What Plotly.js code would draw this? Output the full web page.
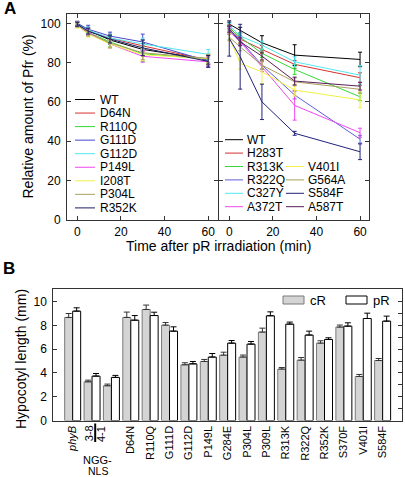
<!DOCTYPE html>
<html>
<head>
<meta charset="utf-8">
<script src="https://cdn.plot.ly/plotly-3.0.1.min.js"></script>
<style>html,body{margin:0;padding:0;background:#fff;}#chart{width:405px;height:477px;}</style>
</head>
<body>
<div id="chart"></div>
<script>
// ---------- Panel A data ----------
const times = [0, 5, 15, 30, 60];

const leftNames = ['WT','D64N','R110Q','G111D','G112D','P149L','I208T','P304L','R352K'];
const leftColors = ['#000000','#d83030','#38d838','#4848cc','#50e8f0','#f048f0','#f0f048','#a8a060','#1c1c64'];
const leftWT    = [100, 96.5, 91.5, 86.7, 81.6];
const leftD64N  = [99.5, 96, 92.5, 88.5, 81.3];
const leftR110Q = [99.5, 95.5, 90.5, 84.5, 81.8];
const leftG111D = [100, 97, 93.5, 90.5, 80.8];
const leftG112D = [99.5, 96.5, 92.5, 89.5, 84.2];
const leftP149L = [99.5, 95.5, 89.5, 83.2, 80.4];
const leftI208T = [99, 94.5, 89.5, 84, 82];
const leftP304L = [99, 95, 90, 85, 82.2];
const leftR352K = [99.5, 96, 92, 87.5, 80.6];
const leftErrWT    = [1, 1.5, 2, 3, 2.5];
const leftErrD64N  = [1, 1.5, 2, 3, 2];
const leftErrR110Q = [1, 1.5, 2.5, 4, 2.5];
const leftErrG111D = [1, 2, 2, 4, 3];
const leftErrG112D = [1, 1.5, 2, 3, 2.5];
const leftErrP149L = [1, 1.5, 2, 3, 2];
const leftErrI208T = [1.5, 1.5, 2, 3, 2];
const leftErrP304L = [1, 1.5, 2.5, 3.5, 2];
const leftErrR352K = [1, 1.5, 2, 4, 3];
const leftVals = [leftWT,leftD64N,leftR110Q,leftG111D,leftG112D,leftP149L,leftI208T,leftP304L,leftR352K];
const leftErrs = [leftErrWT,leftErrD64N,leftErrR110Q,leftErrG111D,leftErrG112D,leftErrP149L,leftErrI208T,leftErrP304L,leftErrR352K];

const rightNames = ['WT','H283T','R313K','R322Q','C327Y','A372T','V401I','G564A','S584F','A587T'];
const rightColors = ['#000000','#d83030','#38d838','#6060d8','#50e8f0','#f048f0','#f0f048','#a8a060','#22227a','#5a1e5a'];
const rightWT    = [99.6, 96.5, 90.1, 83.8, 81.6];
const rightH283T = [98.2, 92, 86.7, 79.1, 72.3];
const rightR313K = [97.5, 93, 84.7, 76.5, 62.6];
const rightR322Q = [97, 91.4, 78.7, 63.5, 41];
const rightC327Y = [99, 93.5, 88.9, 80.4, 73.6];
const rightA372T = [96, 90.6, 77.9, 58.2, 44.3];
const rightV401I = [93, 79.6, 75.3, 66, 61];
const rightG564A = [93, 88, 78.7, 70.2, 66.4];
const rightS584F = [92.3, 83, 60, 44, 34.6];
const rightA587T = [97, 90.6, 83.3, 70.6, 68];
const rightErrWT    = [1, 1.5, 3.6, 5.3, 3.7];
const rightErrH283T = [1, 2, 2, 2, 2.5];
const rightErrR313K = [1, 2, 2, 2.5, 2];
const rightErrR322Q = [1.5, 2, 2, 2, 2];
const rightErrC327Y = [1, 1.5, 2, 2.5, 4.8];
const rightErrA372T = [1.5, 2, 2.5, 7.5, 2.3];
const rightErrV401I = [2, 3, 6, 3, 4];
const rightErrG564A = [1.5, 2, 2, 2, 2];
const rightErrS584F = [9, 16.5, 9, 1, 4];
const rightErrA587T = [1.5, 2, 2, 2, 2];
const rightVals = [rightWT,rightH283T,rightR313K,rightR322Q,rightC327Y,rightA372T,rightV401I,rightG564A,rightS584F,rightA587T];
const rightErrs = [rightErrWT,rightErrH283T,rightErrR313K,rightErrR322Q,rightErrC327Y,rightErrA372T,rightErrV401I,rightErrG564A,rightErrS584F,rightErrA587T];

// ---------- Panel B data ----------
const bLabels = ['phyB','3-8','4-1','D64N','R110Q','G111D','G112D','P149L','G284E','P304L','P309L','R313K','R322Q','R352K','S370F','V401I','S584F'];
const cR    = [8.66,3.25,2.92,8.66,9.33,8.01,4.68,4.96,5.49,5.33,7.43,4.32,5.07,6.50,7.85,3.70,5.04];
const cRerr = [0.33,0.14,0.14,0.45,0.37,0.22,0.17,0.17,0.25,0.17,0.33,0.13,0.22,0.20,0.17,0.17,0.17];
const pR    = [9.19,3.73,3.62,8.43,8.82,7.51,4.76,5.33,6.50,6.42,8.80,8.10,7.18,6.81,7.93,8.57,8.35];
const pRerr = [0.28,0.22,0.17,0.39,0.28,0.36,0.20,0.30,0.22,0.22,0.33,0.17,0.33,0.14,0.28,0.45,0.42];
const nglsLabels = ['3-8','4-1'];
const nglsGroup = ['NGG-', 'NLS'];

// ---------- helpers ----------
const W = 405, H = 477;
const px = v => v / W;
const py = v => 1 - v / H;
const FONT = 'Liberation Sans, Arial, Helvetica, sans-serif';

const traces = [];
function addLines(names, vals, errs, colors, xa, ya) {
  names.forEach((n, i) => {
    traces.push({
      type: 'scatter', mode: 'lines', x: times, y: vals[i], name: n,
      xaxis: xa, yaxis: ya, showlegend: false,
      line: {color: colors[i], width: 1},
      error_y: {type: 'data', array: errs[i], visible: true, color: colors[i], thickness: 1, width: 2}
    });
  });
}
addLines(leftNames, leftVals, leftErrs, leftColors, 'x', 'y');
addLines(rightNames, rightVals, rightErrs, rightColors, 'x2', 'y2');

const idx = bLabels.map((_, i) => i);
traces.push({
  type: 'bar', x: idx, y: cR, name: 'cR', xaxis: 'x3', yaxis: 'y3', showlegend: false,
  marker: {color: '#d4d4d4', line: {color: '#7a7a7a', width: 1}},
  error_y: {type: 'data', symmetric: false, array: cRerr, arrayminus: cR.map(() => 0), color: '#333', thickness: 1, width: 3}
});
traces.push({
  type: 'bar', x: idx, y: pR, name: 'pR', xaxis: 'x3', yaxis: 'y3', showlegend: false,
  marker: {color: '#ffffff', line: {color: '#000000', width: 1}},
  error_y: {type: 'data', symmetric: false, array: pRerr, arrayminus: pR.map(() => 0), color: '#000', thickness: 1, width: 3}
});

const tickText = bLabels.map(l => l === 'phyB' ? '<i>phyB</i>' : (nglsLabels.includes(l) ? '' : l));

const axA = {
  showline: true, linecolor: '#333', linewidth: 1, mirror: 'ticks',
  ticks: 'inside', ticklen: 4, tickcolor: '#333', showgrid: false, zeroline: false,
  tickfont: {size: 12, family: FONT, color: '#000'}
};
const yDomA = [py(219.7), py(13.5)];

const annotations = [];
const shapes = [];
function ann(text, x, y, opts) {
  annotations.push(Object.assign({text, x: px(x), y: py(y), xref: 'paper', yref: 'paper',
    showarrow: false, font: {size: 12, family: FONT, color: '#000'}, xanchor: 'left', yanchor: 'middle'}, opts || {}));
}
function hline(x0, x1, y, color, width) {
  shapes.push({type: 'line', xref: 'paper', yref: 'paper', x0: px(x0), x1: px(x1), y0: py(y), y1: py(y), line: {color, width: width || 1}});
}

// panel letters
ann('<b>A</b>', 2, 9, {font: {size: 17, family: FONT, color: '#000'}});
ann('<b>B</b>', 1, 268, {font: {size: 17, family: FONT, color: '#000'}});
// titles
ann('Time after pR irradiation (min)', 218, 246, {xanchor: 'center', font: {size: 14, family: FONT, color: '#000'}});
ann('Relative amount of Pfr (%)', 28, 116.5, {xanchor: 'center', textangle: -90, font: {size: 14, family: FONT, color: '#000'}});
ann('Hypocotyl length (mm)', 21, 359, {xanchor: 'center', textangle: -90, font: {size: 14, family: FONT, color: '#000'}});

// left legend
leftNames.forEach((n, i) => {
  const y = 99.5 + i * 13.55;
  hline(75, 95, y, leftColors[i], 1);
  ann(n, 98, y);
});
// right legend, two columns
const col1 = 6;
rightNames.forEach((n, i) => {
  let x0, y;
  if (i < col1) { x0 = 225; y = 139.7 + i * 13.4; }
  else { x0 = 286; y = 139.7 + (i - col1 + 2) * 13.4; }
  hline(x0, x0 + 18, y, rightColors[i], 1);
  ann(n, x0 + 20, y);
});
// panel B legend
shapes.push({type: 'rect', xref: 'paper', yref: 'paper', x0: px(283), x1: px(304), y0: py(304), y1: py(296),
  fillcolor: '#d4d4d4', line: {color: '#7a7a7a', width: 1}});
ann('cR', 308, 300.5, {font: {size: 13, family: FONT, color: '#000'}});
shapes.push({type: 'rect', xref: 'paper', yref: 'paper', x0: px(346), x1: px(367), y0: py(304), y1: py(296),
  fillcolor: '#ffffff', line: {color: '#000', width: 1}});
ann('pR', 371, 300.5, {font: {size: 13, family: FONT, color: '#000'}});

// NGG-NLS labels
ann(nglsLabels[0], 89.2, 423, {xanchor: 'center', yanchor: 'top', textangle: -90, font: {size: 11, family: FONT, color: '#000'}});
ann(nglsLabels[1], 100.5, 424.5, {xanchor: 'center', yanchor: 'top', textangle: -90, font: {size: 11, family: FONT, color: '#000'}});
shapes.push({type: 'line', xref: 'paper', yref: 'paper', x0: px(95.2), x1: px(95.2), y0: py(423.5), y1: py(442), line: {color: '#000', width: 2}});
ann(nglsGroup[0], 97.5, 459.5, {xanchor: 'center', font: {size: 11, family: FONT, color: '#000'}});
ann(nglsGroup[1], 97.5, 470.5, {xanchor: 'center', font: {size: 10.5, family: FONT, color: '#000'}});

const layout = {
  width: W, height: H, margin: {l: 0, r: 0, t: 0, b: 0},
  paper_bgcolor: '#fff', plot_bgcolor: '#fff',
  font: {family: FONT, size: 12, color: '#000'},
  showlegend: false,
  barmode: 'group', bargap: 0.175, bargroupgap: 0,
  xaxis: Object.assign({}, axA, {domain: [px(67), px(218)], anchor: 'y', range: [-4.7, 64.5], tickvals: [0, 20, 40, 60], ticklabelstandoff: 1}),
  yaxis: Object.assign({}, axA, {domain: yDomA, anchor: 'x', range: [0, 105], tickvals: [0, 20, 40, 60, 80, 100], ticklabelstandoff: 3}),
  xaxis2: Object.assign({}, axA, {domain: [px(219), px(369)], anchor: 'y2', range: [-4.7, 64.1], tickvals: [0, 20, 40, 60], ticklabelstandoff: 1}),
  yaxis2: Object.assign({}, axA, {domain: yDomA, anchor: 'x2', range: [0, 105], tickvals: [0, 20, 40, 60, 80, 100], showticklabels: false}),
  xaxis3: {domain: [px(53.3), px(402)], anchor: 'y3', range: [-1, 17], tickvals: idx, ticktext: tickText,
    tickangle: -90, ticks: '', showline: true, linecolor: '#333', linewidth: 1, mirror: true,
    showgrid: false, zeroline: false, tickfont: {size: 11, family: FONT, color: '#000'}},
  yaxis3: {domain: [py(420.5), py(289)], anchor: 'x3', range: [0, 11.05], tickvals: [0, 2, 4, 6, 8, 10],
    ticks: 'inside', ticklen: 4, tickcolor: '#333', showline: true, linecolor: '#333', linewidth: 1, mirror: true,
    showgrid: false, zeroline: false, tickfont: {size: 12, family: FONT, color: '#000'}, ticklabelstandoff: 3},
  yaxis4: {overlaying: 'y3', side: 'right', anchor: 'x3', range: [0, 11.05], dtick: 1, tick0: 0,
    ticks: 'inside', ticklen: 4, tickcolor: '#333', showticklabels: false, showline: false, showgrid: false, zeroline: false},
  annotations, shapes
};

// invisible helper trace so the right-side tick axis of panel B is drawn
traces.push({type: 'scatter', x: [0], y: [0], xaxis: 'x3', yaxis: 'y4', mode: 'markers', marker: {opacity: 0}, hoverinfo: 'skip', showlegend: false});

Plotly.newPlot('chart', traces, layout, {staticPlot: true, displayModeBar: false});
</script>
</body>
</html>
